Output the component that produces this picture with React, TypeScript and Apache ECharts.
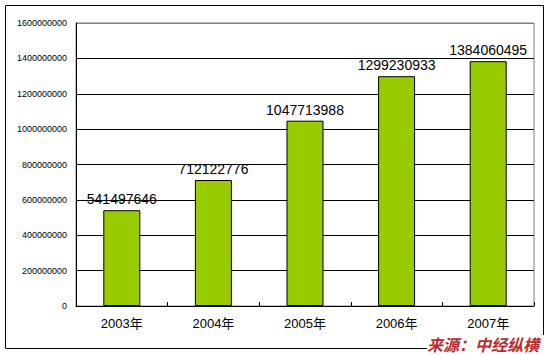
import React, { useEffect, useRef } from "react";
import * as echarts from "echarts";

const categories = ["2003年", "2004年", "2005年", "2006年", "2007年"];
const values = [541497646, 712122776, 1047713988, 1299230933, 1384060495];
const yMax = 1600000000;
const yInterval = 200000000;
const sourceText = "来源：中经纵横";

export default function App() {
  const ref = useRef<HTMLDivElement>(null);
  useEffect(() => {
    document.body.style.margin = "0";
    const chart = echarts.init(ref.current!, null, { renderer: "svg" });
    const splitColors = ["#000", "#000", "#000", "#000", "#000", "#000", "#000", "#000", "#808080"];
    chart.setOption({
      animation: false,
      backgroundColor: "#fff",
      grid: {
        left: 76,
        top: 23,
        right: 17,
        bottom: 49,
        show: true,
        borderColor: "#808080",
        borderWidth: 1,
        backgroundColor: "transparent",
      },
      xAxis: {
        type: "category",
        data: categories,
        axisLine: { show: true, lineStyle: { color: "#000", width: 1 } },
        axisTick: { show: true, inside: true, length: 4, alignWithLabel: false, lineStyle: { color: "#000" } },
        axisLabel: {
          color: "#000",
          fontSize: 13,
          lineHeight: 13,
          margin: 11,
          fontFamily: "Liberation Sans, Noto Sans CJK SC, sans-serif",
        },
        splitLine: { show: false },
      },
      yAxis: {
        type: "value",
        min: 0,
        max: yMax,
        interval: yInterval,
        axisLine: { show: true, lineStyle: { color: "#000", width: 1 } },
        axisTick: { show: false },
        axisLabel: {
          color: "#000",
          fontSize: 9,
          margin: 9,
          fontFamily: "Liberation Sans, sans-serif",
          formatter: (v: number) => String(v),
        },
        splitLine: { show: true, lineStyle: { color: splitColors, width: 1 } },
      },
      series: [
        {
          type: "bar",
          data: values,
          barWidth: 37,
          itemStyle: { color: "#99CC00", borderColor: "#000", borderWidth: 1 },
          label: {
            show: true,
            position: "top",
            distance: 4,
            color: "#000",
            fontSize: 14,
            fontFamily: "Liberation Sans, sans-serif",
          },
        },
      ],
      graphic: [
        {
          type: "rect",
          shape: { x: 5.5, y: 5.5, width: 538, height: 343 },
          style: { fill: "none", stroke: "#000", lineWidth: 1 },
          silent: true,
        },
        {
          type: "rect",
          shape: { x: 427, y: 335, width: 124, height: 20 },
          style: { fill: "#fff" },
          silent: true,
        },
        {
          type: "text",
          x: 427,
          y: 336,
          style: {
            text: sourceText,
            fill: "#C0282C",
            font: "italic bold 16px 'Noto Sans CJK SC', sans-serif",
            textVerticalAlign: "top",
          },
          silent: true,
        },
      ],
    });
    return () => chart.dispose();
  }, []);
  return <div ref={ref} style={{ width: 551, height: 355 }} />;
}
